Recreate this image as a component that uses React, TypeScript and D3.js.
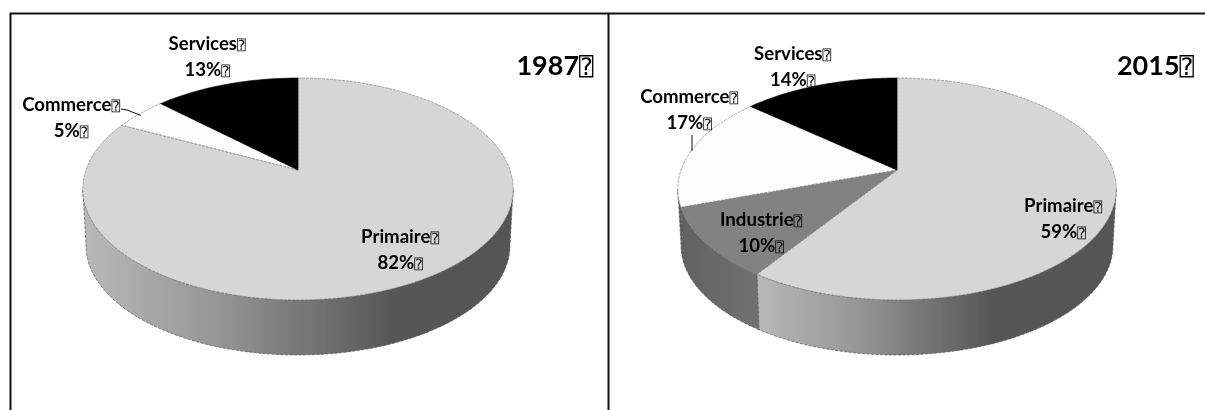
import React from "react";
import * as d3 from "d3";

const BOX = "\u2370";
// 1987
const categories1987 = ["Primaire", "Commerce", "Services"];
const values1987 = [82.4, 4.7, 12.9];
// 2015
const categories2015 = ["Primaire", "Industrie", "Commerce", "Services"];
const values2015 = [59.4, 10.3, 16.7, 13.6];

const fills: Record<string, string> = {
  Primaire: "#d6d6d6",
  Industrie: "#828282",
  Commerce: "#fcfcfc",
  Services: "#000000",
};

const P = 0.171; // perspective strength of the tilted disc
const KY = 107.7; // vertical scale
const DEPTH = 57;
const FRONT_START = Math.acos(-P);
const FRONT_END = 2 * Math.PI - FRONT_START;

type LabelPos = Record<string, { x: number; y: number }>;

function project(cx: number, cy: number, r: number, a: number, scale = 1, dy = 0): [number, number] {
  const x = Math.sin(a);
  const y = -Math.cos(a);
  const d = 1 - P * y;
  return [cx + (r * scale * x) / d, cy + dy + (KY * scale * y) / d];
}

const line = d3.line<[number, number]>();

function arcPts(cx: number, cy: number, r: number, a0: number, a1: number, scale = 1, dy = 0) {
  const n = Math.max(2, Math.ceil((a1 - a0) / 0.02));
  return d3.range(n + 1).map((i) => project(cx, cy, r, a0 + ((a1 - a0) * i) / n, scale, dy));
}

function Panel({
  id, categories, values, cx, cy, r, gradFrom, gradTo, labels, year, yearX,
}: {
  id: string; categories: string[]; values: number[]; cx: number; cy: number; r: number;
  gradFrom: number; gradTo: number; labels: LabelPos; year: string; yearX: number;
}) {
  const pie = d3.pie<number>().sort(null).value((d) => d)(values);
  const font = "Lato, 'DejaVu Sans', sans-serif";
  const boxFont = "'DejaVu Sans Mono', 'DejaVu Sans'";
  return (
    <g>
      <defs>
        <linearGradient id={`wall-${id}`} gradientUnits="userSpaceOnUse" x1={gradFrom} x2={gradTo} y1={0} y2={0}>
          <stop offset="0" stopColor="#b8b8b8" />
          <stop offset="0.3" stopColor="#979797" />
          <stop offset="0.72" stopColor="#565656" />
          <stop offset="1" stopColor="#555555" />
        </linearGradient>
        <linearGradient id={`wall2-${id}`} gradientUnits="userSpaceOnUse" x1={cx - r} x2={cx - 130} y1={0} y2={0}>
          <stop offset="0" stopColor="#616161" />
          <stop offset="1" stopColor="#737373" />
        </linearGradient>
      </defs>
      <g filter="url(#soft)">
        {pie.map((s, i) => {
          const a0 = Math.max(s.startAngle, FRONT_START);
          const a1 = Math.min(s.endAngle, FRONT_END);
          if (a1 <= a0) return null;
          const top = arcPts(cx, cy, r, a0, a1);
          const bottom = arcPts(cx, cy, r, a0, a1, 0.985, DEPTH).reverse();
          const cat = categories[i];
          return (
            <path
              key={cat}
              d={line([...top, ...bottom])! + "Z"}
              fill={cat === "Primaire" ? `url(#wall-${id})` : `url(#wall2-${id})`}
              stroke="#555"
              strokeWidth={0.7}
              strokeDasharray="3 1.5"
            />
          );
        })}
        {pie.map((s, i) => {
          const pts = arcPts(cx, cy, r, s.startAngle, s.endAngle);
          const apex = project(cx, cy, r, 0, 0);
          const cat = categories[i];
          return (
            <path
              key={cat}
              d={line([apex, ...pts])! + "Z"}
              fill={fills[cat]}
              stroke={cat === "Services" ? "#000" : "#777"}
              strokeWidth={0.6}
              strokeDasharray={cat === "Services" ? undefined : "3 1"}
            />
          );
        })}
      </g>
      <g fontFamily={font} fontWeight={700} fontSize={18.6} fill="#000" textAnchor="middle" filter="url(#softText)">
        {categories.map((cat, i) => {
          const p = labels[cat];
          return (
            <g key={cat}>
              <text x={p.x} y={p.y}>
                {cat}
                <tspan fontFamily={boxFont} fontWeight={400} fontSize={14}>{BOX}</tspan>
              </text>
              <text x={p.x} y={p.y + 26}>
                {`${Math.round(values[i])}%`}
                <tspan fontFamily={boxFont} fontWeight={400} fontSize={14}>{BOX}</tspan>
              </text>
            </g>
          );
        })}
        <text x={yearX} y={75} fontSize={27}>
          {year}
          <tspan fontFamily={boxFont} fontWeight={400} fontSize={24}>{BOX}</tspan>
        </text>
      </g>
    </g>
  );
}

export default function App() {
  return (
    <svg width={1205} height={410} viewBox="0 0 1205 410" style={{ position: "absolute", left: 0, top: 0, background: "#fff" }}>
      <defs>
        <filter id="soft" x="-5%" y="-5%" width="110%" height="110%">
          <feGaussianBlur stdDeviation="0.5" />
        </filter>
        <filter id="softText" x="-5%" y="-5%" width="110%" height="110%">
          <feGaussianBlur stdDeviation="0.3" />
        </filter>
      </defs>
      <rect x={0} y={0} width={1205} height={410} fill="#fff" />
      <g stroke="#111" strokeWidth={2} fill="none">
        <line x1={10} x2={1205} y1={13.5} y2={13.5} />
        <line x1={10.5} x2={10.5} y1={13} y2={410} />
        <line x1={608.5} x2={608.5} y1={13} y2={410} />
      </g>
      <Panel
        id="a"
        categories={categories1987}
        values={values1987}
        cx={298}
        cy={170}
        r={212}
        gradFrom={85}
        gradTo={513}
        year="1987"
        yearX={555}
        labels={{
          Primaire: { x: 400, y: 243 },
          Commerce: { x: 71, y: 111 },
          Services: { x: 207, y: 50 },
        }}
      />
      <Panel
        id="b"
        categories={categories2015}
        values={values2015}
        cx={897}
        cy={170}
        r={216}
        gradFrom={757}
        gradTo={1085}
        year="2015"
        yearX={1155.5}
        labels={{
          Primaire: { x: 1063, y: 212 },
          Industrie: { x: 761, y: 226 },
          Commerce: { x: 689, y: 103 },
          Services: { x: 792.5, y: 60 },
        }}
      />
      <g stroke="#111" strokeWidth={1} fill="none">
        <path d="M121,109 L127,110 L141,115.5" />
        <path d="M692,135 L692,151" />
      </g>
    </svg>
  );
}
